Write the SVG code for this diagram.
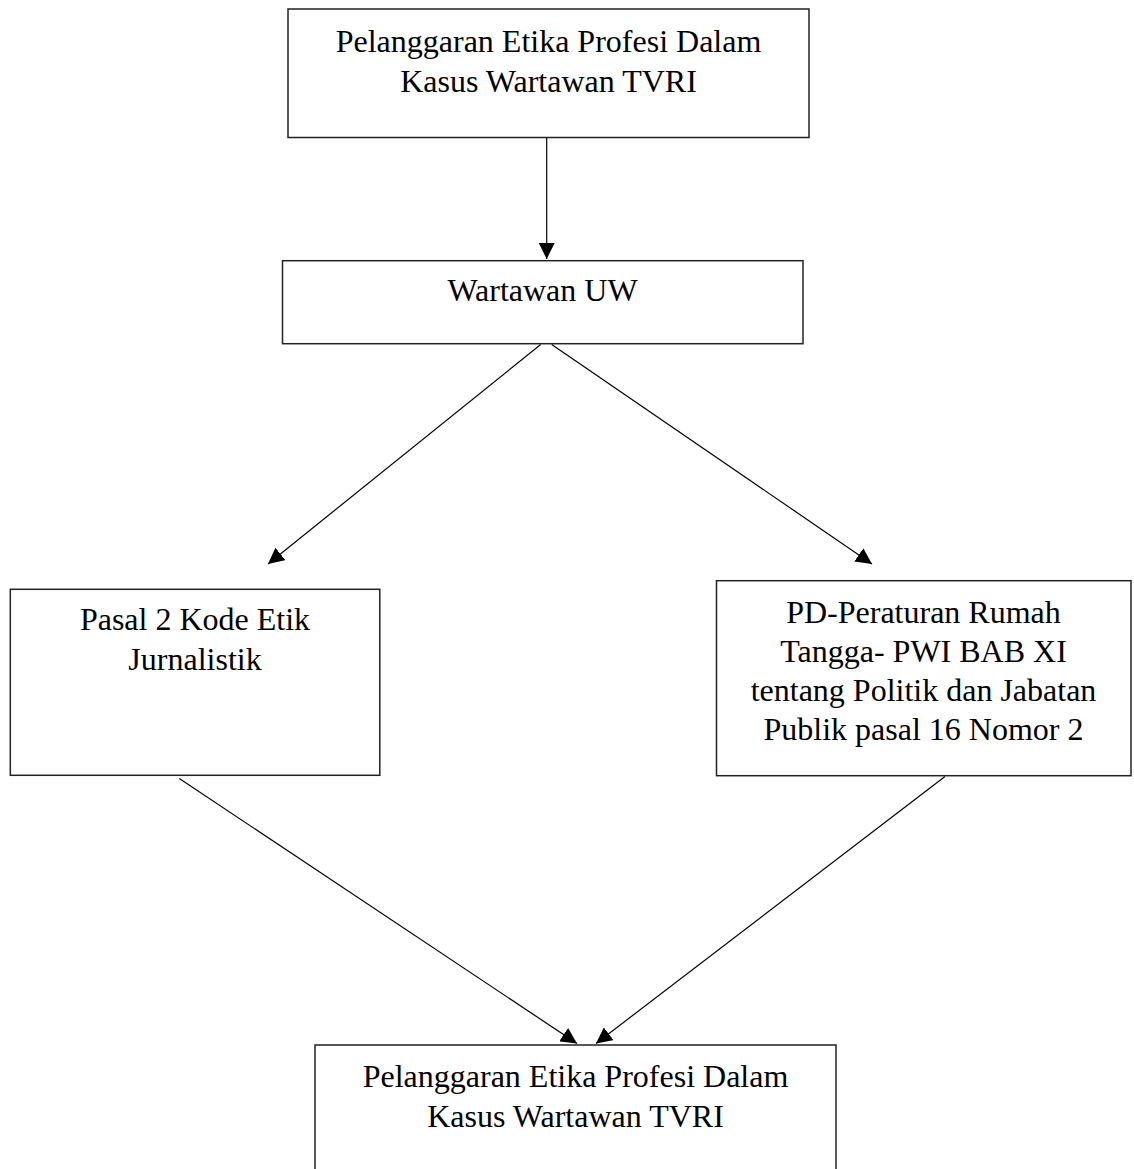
<svg xmlns="http://www.w3.org/2000/svg" width="1134" height="1169" viewBox="0 0 1134 1169">
<style>
.box{fill:#fff;stroke:#222;stroke-width:1.5}
.t{font-family:"Liberation Serif","Times New Roman",serif;font-size:32px;fill:#000;text-anchor:middle}
.c{stroke:#000;stroke-width:1.2;fill:none;marker-end:url(#ah)}
</style>
<defs>
<marker id="ah" markerUnits="userSpaceOnUse" markerWidth="16" markerHeight="16" refX="15" refY="7.5" orient="auto" viewBox="0 0 15 15">
<path d="M0,0 L15,7.5 L0,15 z" fill="#000"/>
</marker>
</defs>
<rect width="1134" height="1169" fill="#fff"/>
<g id="connectors">
<line class="c" x1="546.7" y1="138" x2="546.7" y2="259"/>
<line class="c" x1="540.7" y1="344.5" x2="268" y2="564"/>
<line class="c" x1="551.7" y1="344.5" x2="872" y2="564"/>
<line class="c" x1="179.3" y1="778.5" x2="577" y2="1043.5"/>
<line class="c" x1="945" y1="776.5" x2="596" y2="1043.5"/>
</g>
<g id="node1">
<rect class="box" x="288" y="9" width="521" height="128.5"/>
<text class="t" x="548.5" y="52">Pelanggaran Etika Profesi Dalam</text>
<text class="t" x="548.5" y="91.5">Kasus Wartawan TVRI</text>
</g>
<g id="node2">
<rect class="box" x="282.5" y="260.7" width="520.5" height="83"/>
<text class="t" x="542.5" y="301">Wartawan UW</text>
</g>
<g id="node3">
<rect class="box" x="10.3" y="589.3" width="369.5" height="186"/>
<text class="t" x="195" y="630">Pasal 2 Kode Etik</text>
<text class="t" x="195" y="669.5">Jurnalistik</text>
</g>
<g id="node4">
<rect class="box" x="716.5" y="580.7" width="414.5" height="195"/>
<text class="t" x="923.5" y="622.5">PD-Peraturan Rumah</text>
<text class="t" x="923.5" y="661.5">Tangga- PWI BAB XI</text>
<text class="t" x="923.5" y="700.5">tentang Politik dan Jabatan</text>
<text class="t" x="923.5" y="739.5">Publik pasal 16 Nomor 2</text>
</g>
<g id="node5">
<rect class="box" x="315" y="1045" width="521" height="140"/>
<text class="t" x="575.5" y="1087">Pelanggaran Etika Profesi Dalam</text>
<text class="t" x="575.5" y="1126.5">Kasus Wartawan TVRI</text>
</g>
</svg>
